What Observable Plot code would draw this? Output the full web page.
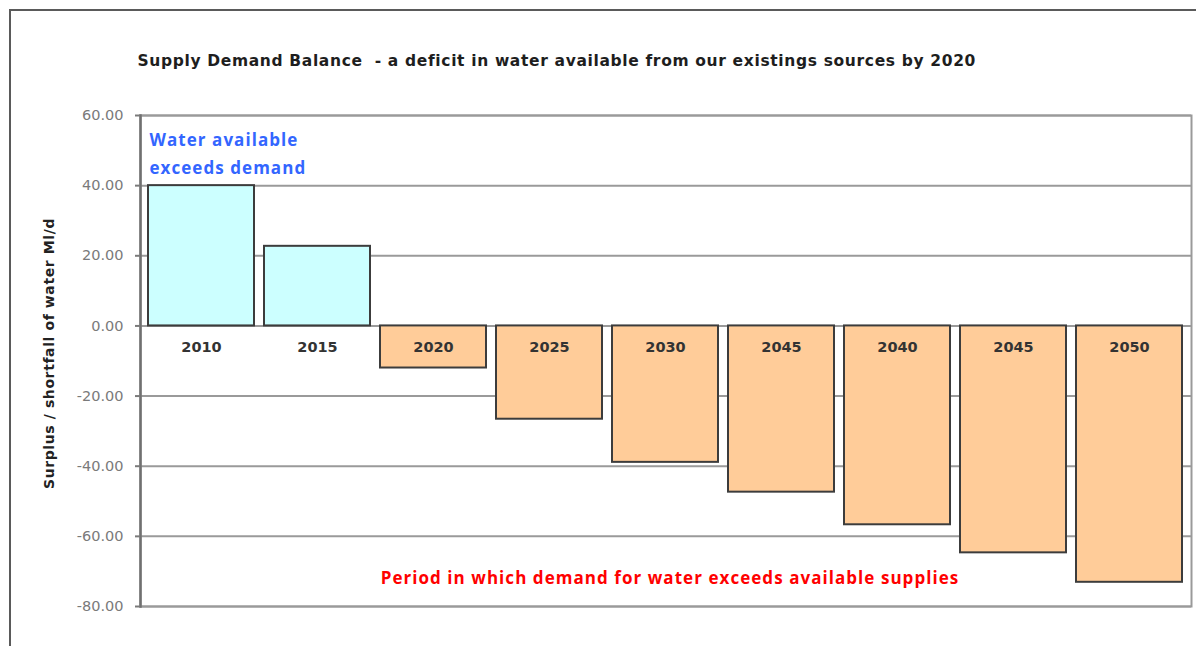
<!DOCTYPE html>
<html><head><meta charset="utf-8">
<script src="https://cdn.jsdelivr.net/npm/d3@7"></script>
<script src="https://cdn.jsdelivr.net/npm/@observablehq/plot@0.6"></script>
<style>
body{margin:0;background:#fff;}
#wrap{position:relative;width:1196px;height:646px;overflow:hidden;background:#fff;}
#border{position:absolute;left:9px;top:9px;width:1300px;height:800px;border-left:2px solid #5a5a5a;border-top:2px solid #5a5a5a;}
#chart{position:absolute;left:0;top:0;}
.t-title text{letter-spacing:0.65px;}
.t-ylabel text{letter-spacing:0.6px;}
.t-note text{letter-spacing:1.05px;}
</style></head><body>
<div id="wrap"><div id="border"></div><div id="chart"></div></div>
<script>
const periods = ["2010","2015","2020","2025","2030","2045","2040","2045","2050"];
const balance = [40, 22.7, -12, -26.6, -38.9, -47.4, -56.7, -64.7, -73.1];
const yTicks = [60, 40, 20, 0, -20, -40, -60, -80];
const titleText = "Supply Demand Balance  - a deficit in water available from our existings sources by 2020";
const yLabel = "Surplus / shortfall of water Ml/d";
const surplusNote = "Water available\nexceeds demand";
const deficitNote = "Period in which demand for water exceeds available supplies";

const data = periods.map((p, i) => ({key: i, period: p, value: balance[i]}));

const chart = Plot.plot({
  width: 1196, height: 646,
  marginLeft: 140, marginRight: 5, marginTop: 115, marginBottom: 40,
  x: {type: "band", domain: d3.range(periods.length), paddingInner: 0.086, paddingOuter: 0.05, axis: null},
  y: {domain: [-80, 60], axis: null},
  style: {fontFamily: "DejaVu Sans", background: "transparent"},
  marks: [
    Plot.ruleY(yTicks, {stroke: "#9a9a9a", strokeWidth: 2}),
    Plot.frame({stroke: "#9a9a9a", strokeWidth: 2}),
    Plot.frame({anchor: "left", stroke: "#707070", strokeWidth: 2.5}),
    Plot.axisY(yTicks, {label: null, tickSize: 5, tickPadding: 12, tickFormat: d => d.toFixed(2), color: "#7a7a7a", strokeWidth: 2, fontSize: 14.5}),
    Plot.barY(data, {filter: d => d.value >= 0, x: "key", y: "value", fill: "#ccffff", stroke: "#3c3c3c", strokeWidth: 2}),
    Plot.barY(data, {filter: d => d.value < 0, x: "key", y: "value", fill: "#ffcc99", stroke: "#3c3c3c", strokeWidth: 2}),
    Plot.text(data, {x: "key", y: 0, text: "period", dy: 21.6, fontWeight: "bold", fontSize: 14.5, fill: "#333"}),
    Plot.text([titleText], {className: "t-title", text: d => d, frameAnchor: "top-left", textAnchor: "start", lineAnchor: "bottom", dx: -3, dy: -50, fontWeight: "bold", fontSize: 15.5, fill: "#1e1e1e"}),
    Plot.text([yLabel], {className: "t-ylabel", text: d => d, frameAnchor: "left", rotate: -90, textAnchor: "middle", lineAnchor: "middle", dx: -91, dy: -7.5, fontWeight: "bold", fontSize: 14, fill: "#222"}),
    Plot.text([surplusNote], {className: "t-note", text: d => d, frameAnchor: "top-left", textAnchor: "start", lineAnchor: "bottom", lineHeight: 1.6, dx: 9, dy: 58, fontFamily: "Open Sans", fontWeight: "bold", fontSize: 17, fill: "#3366ff"}),
    Plot.text([deficitNote], {className: "t-note", text: d => d, frameAnchor: "bottom", textAnchor: "middle", lineAnchor: "bottom", dx: 4, dy: -23, fontFamily: "Open Sans", fontWeight: "bold", fontSize: 17, fill: "#ff0000"})
  ]
});
document.getElementById("chart").appendChild(chart);
</script>
</body></html>
